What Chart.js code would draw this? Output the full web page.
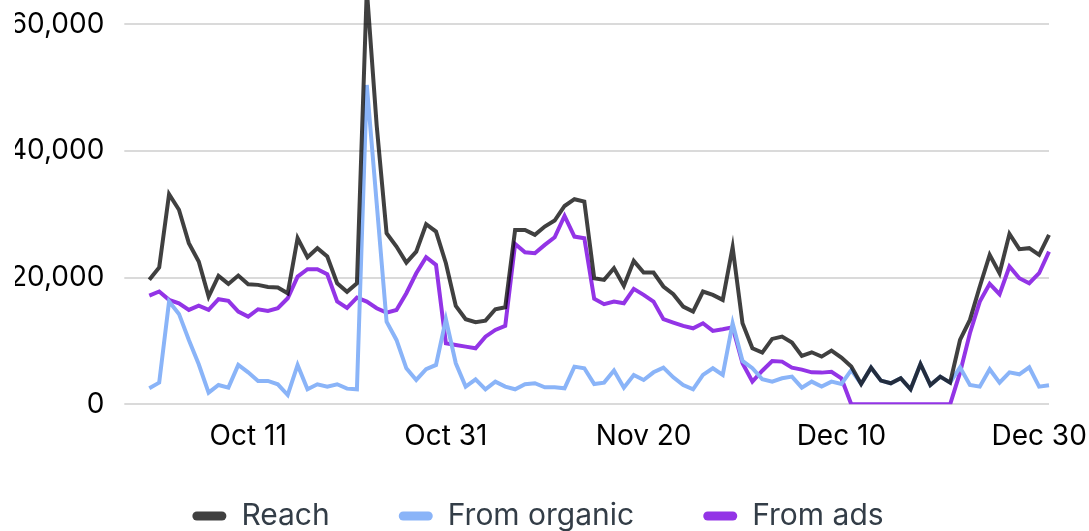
<!DOCTYPE html>
<html>
<head>
<meta charset="utf-8">
<script src="https://cdn.jsdelivr.net/npm/chart.js@4.4.1/dist/chart.umd.min.js"></script>
<style>
  html, body { margin: 0; padding: 0; background: #ffffff; overflow: hidden; width: 1089px; height: 531px; }
  #clip { position: absolute; left: 15px; top: 0; width: 1074px; height: 531px; overflow: hidden; }
  #chart { position: absolute; left: -55px; top: -76px; }
</style>
</head>
<body>
<div id="clip"><canvas id="chart" width="1129" height="650"></canvas></div>
<script>
// Categories: daily dates Oct 1 – Dec 31
const months = [["Oct", 31], ["Nov", 30], ["Dec", 31]];
const categories = [];
for (const [m, n] of months) for (let d = 1; d <= n; d++) categories.push(m + " " + d);

// Tick labels shown on the x axis
const xTickLabels = ["Oct 11", "Oct 31", "Nov 20", "Dec 10", "Dec 30"];
// Y axis ticks
const yTicks = [0, 20000, 40000, 60000];

const seriesNames = ["Reach", "From organic", "From ads"];

const reach = [
  19640, 21590, 33170, 30700, 25430, 22530, 17000, 20270, 19000, 20320,
  18950, 18850, 18530, 18430, 17530, 26220, 23220, 24640, 23320, 19110,
  17760, 19100, 65500, 44000, 27000, 24900, 22370, 24100, 28420, 27260,
  22260, 15530, 13420, 12950, 13210, 15000, 15320, 27530, 27530, 26740,
  28050, 29000, 31300, 32370, 32000, 19900, 19640, 21480, 18690, 22640,
  20800, 20800, 18590, 17370, 15430, 14640, 17800, 17270, 16480, 24800,
  12790, 8850, 8160, 10320, 10690, 9740, 7630, 8210, 7530, 8480,
  7370, 5950, 3210, 5790, 3740, 3320, 4110, 2370, 6370, 3050,
  4370, 3420, 10160, 13320, 18590, 23590, 20690, 26900, 24480, 24640,
  23590, 26750
];

const organic = [
  2530, 3420, 16220, 14270, 10160, 6320, 1840, 3050, 2630, 6210,
  5050, 3690, 3690, 3160, 1470, 6210, 2370, 3160, 2790, 3160,
  2470, 2370, 50400, 31700, 13050, 10160, 5680, 3840, 5530, 6210,
  13420, 6470, 2790, 3950, 2370, 3580, 2790, 2370, 3160, 3320,
  2680, 2680, 2530, 5950, 5690, 3200, 3420, 5320, 2630, 4630,
  3840, 5050, 5790, 4260, 3050, 2370, 4630, 5690, 4630, 12790,
  6840, 5690, 3950, 3580, 4110, 4370, 2630, 3580, 2790, 3580,
  3210, 5400, 3210, 5790, 3740, 3320, 4110, 2370, 6370, 3050,
  4370, 3420, 5840, 3050, 2790, 5530, 3420, 5050, 4740, 5840,
  2790, 3000
];

const ads = [
  17160, 17800, 16480, 15950, 14900, 15580, 14900, 16580, 16320, 14640,
  13850, 15000, 14740, 15160, 16740, 20160, 21320, 21320, 20530, 16220,
  15220, 16840, 16210, 15160, 14470, 14890, 17530, 20680, 23210, 22000,
  9630, 9370, 9100, 8840, 10680, 11740, 12370, 25310, 24000, 23840,
  25160, 26370, 29740, 26470, 26210, 16660, 15800, 16220, 15950, 18220,
  17270, 16220, 13430, 12900, 12370, 12000, 12790, 11580, 11850, 12160,
  6480, 3600, 5300, 6840, 6740, 5790, 5480, 5050, 5000, 5130,
  4110, 0, 0, 0, 0, 0, 0, 0, 0, 0,
  0, 0, 5000, 11210, 16220, 19010, 17370, 21740, 19900, 19110,
  20690, 24110
];

const colors = ["rgba(0,0,0,0.75)", "#8ab4f8", "#9334e6"];
const FONT = "Inter, 'Liberation Sans', Arial, sans-serif";
Chart.defaults.font.family = FONT;

const seriesData = [reach, organic, ads];
const datasets = seriesNames.map((name, k) => ({
  label: name,
  data: seriesData[k],
  borderColor: colors[k],
  backgroundColor: colors[k],
  borderWidth: 4,
  pointRadius: 0,
  pointHoverRadius: 0,
  tension: 0,
  fill: false
}));

// Places the legend row (top edge and horizontal centre, canvas px)
const legendPlacer = {
  id: "legendPlacer",
  afterLayout(chart) {
    const lg = chart.legend;
    if (!lg) return;
    const h = lg.bottom - lg.top;
    lg.top = 508;
    lg.bottom = 508 + h;
    const shift = 578 - (lg.left + lg.right) / 2;
    lg.left += shift;
    lg.right += shift;
  }
};

new Chart(document.getElementById("chart"), {
  type: "line",
  data: { labels: categories, datasets },
  plugins: [legendPlacer],
  options: {
    responsive: false,
    animation: false,
    layout: { padding: { left: 55, right: 40, top: 0, bottom: 0.7 } },
    plugins: {
      tooltip: { enabled: false },
      legend: {
        position: "bottom",
        align: "center",
        labels: {
          boxWidth: 34,
          boxHeight: 9,
          useBorderRadius: true,
          borderRadius: 4.5,
          padding: 69,
          color: "#333d47",
          font: { size: 30, family: FONT },
          generateLabels: (chart) =>
            Chart.defaults.plugins.legend.labels.generateLabels(chart).map(l => ({ ...l, lineWidth: 0 }))
        }
      }
    },
    scales: {
      x: {
        type: "category",
        offset: false,
        grid: { display: false, drawTicks: false },
        border: { display: false },
        ticks: {
          autoSkip: false,
          maxRotation: 0,
          minRotation: 0,
          padding: 15,
          color: "#000000",
          font: { size: 28, family: FONT },
          callback: function (value, index) {
            const lab = categories[index];
            return xTickLabels.includes(lab) ? lab : "";
          }
        },
        afterFit: (scale) => { scale.height = 60; }
      },
      y: {
        min: 0,
        max: 70000,
        grid: { color: "#dadada", lineWidth: 2, drawTicks: true, tickLength: 25 },
        border: { display: false },
        ticks: {
          padding: 20,
          color: "#000000",
          font: { size: 28, family: FONT },
          callback: (v) => v.toLocaleString("en-US")
        },
        afterBuildTicks: (scale) => { scale.ticks = yTicks.map(v => ({ value: v })); },
        afterFit: (scale) => { scale.width = 134.3; }
      }
    }
  }
});
</script>
</body>
</html>
